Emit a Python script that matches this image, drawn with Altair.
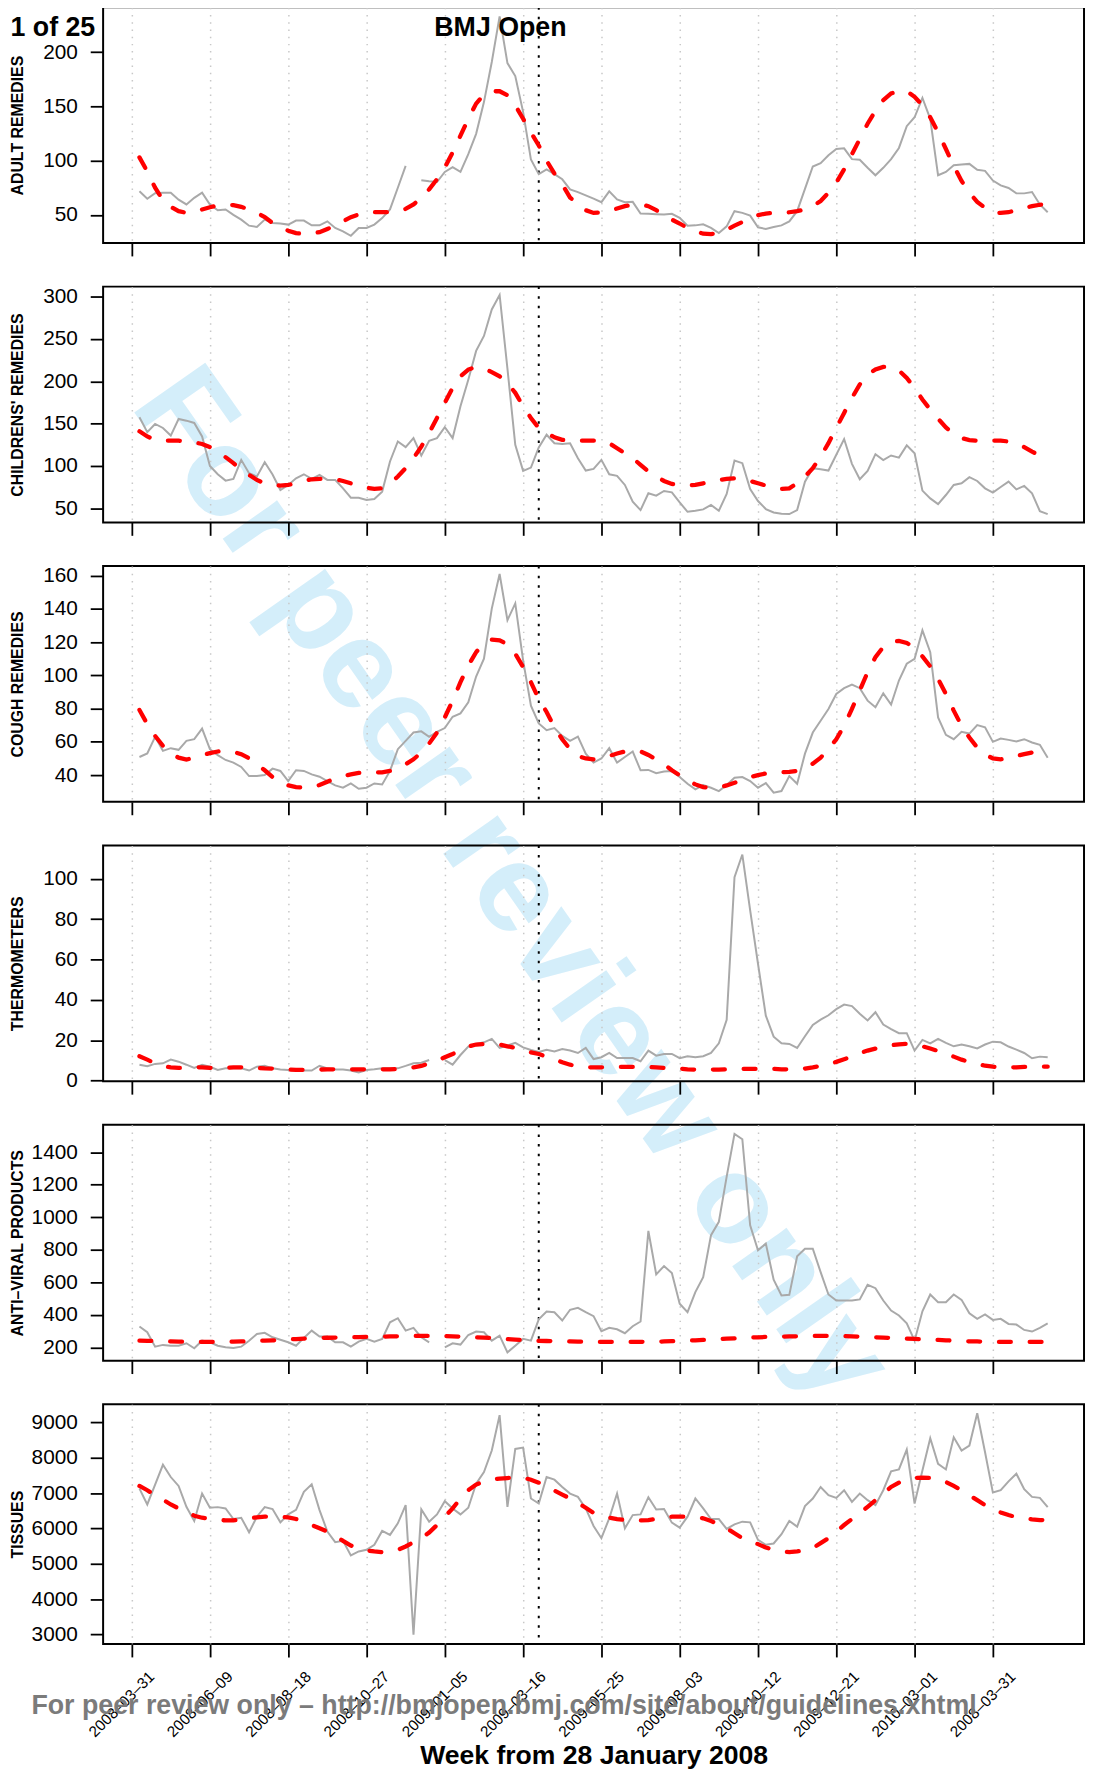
import altair as alt
import pandas as pd

FONT = "Liberation Sans"
GRAY = "#a9a9a9"

# ---------------- data ----------------
weeks = list(range(1, 118))  # week index, 0 = 2008-03-31
tick_weeks = [0, 10, 20, 30, 40, 50, 60, 70, 80, 90, 100, 110]
tick_labels = ["2008–03–31", "2008–06–09", "2008–08–18", "2008–10–27",
               "2009–01–05", "2009–03–16", "2009–05–25", "2009–08–03",
               "2009–10–12", "2009–12–21", "2010–03–01", "2008–03–31"]
marker_week = [52]
x_domain = [-3.64, 121.64]

adult_obs = [
    71.7, 64.8, 70, 70.4, 70.4, 64, 59.6, 65.7, 70.4, 59.6,
    54.3, 55, 50, 45.6, 40, 38.8, 45.6, 42.5, 42, 41,
    44.7, 44.7, 40.3, 40.3, 44, 37.9, 34.8, 30.7, 37.9, 37.9,
    41, 47, 55, 75, 95.2, None, 82, 81, 80.3, 89.6,
    94, 89.6, 106, 124.7, 154, 191, 233, 190, 178, 145,
    101, 87.5, 92, 87.5, 82.8, 73.5, 71, 68, 65, 61.7,
    71.7, 64.2, 61.7, 62, 51.2, 51, 50.6, 50.3, 51, 47.2,
    40, 40.3, 41.3, 37.9, 33.2, 39.4, 53.4, 51.8, 49.3, 38.5,
    37, 38.8, 40.3, 44, 53.4, 74, 94.6, 97.7, 105, 110.7,
    111.3, 101.4, 100.8, 93.4, 86.5, 93.4, 101.4, 111.7, 131.8, 140,
    157.8, 138.6, 86.5, 89.6, 95.8, 96.5, 97, 91.5, 90.6, 81.6,
    77.2, 74.8, 69.8, 69.8, 71, 59.6, 52.4]
adult_fit = [
    103, 90, 75, 63.6, 57.4, 53.4, 51.8, 52.7, 55, 57,
    58.6, 59.3, 59, 57.4, 55, 51.8, 48, 42.5, 38.5, 35.4,
    33.2, 32.3, 33, 34, 37, 40, 44, 47.8, 50.3, 51.8,
    52.4, 52.4, 52.4, 53.4, 55.5, 59.6, 65.8, 73.5, 82.8, 93.7,
    107.6, 123, 138.6, 152.6, 161, 164, 164, 160.3, 151, 138.6,
    126, 114, 100, 88, 78, 66, 59.6, 54.3, 51.8, 52.4,
    53.7, 55.8, 58, 59.3, 59.6, 58, 54.3, 50.3, 45.6, 42,
    37.9, 34.8, 32.6, 32.3, 33.2, 36.3, 40, 43.4, 47.2, 49.7,
    51.2, 51.8, 52, 52.4, 53.4, 55, 58, 62.7, 70.4, 79.7,
    92, 106, 120, 134, 146, 155.7, 162, 164, 164, 158.8,
    151, 140, 126, 110.7, 95.2, 81.3, 70.4, 62, 56.5, 52.4,
    51.8, 52.4, 54.3, 56.5, 58, 59.3, 59.6]

child_obs = [
    157.6, 140, 149.7, 145, 136, 155.6, 153.6, 150.9, 135, 100,
    90.3, 82.8, 84.8, 107.3, 91.5, 87.6, 104.6, 90, 71.7, 77.7,
    85.6, 90.3, 84.8, 89.5, 83.6, 83.6, 73.7, 62.6, 62.6, 59.9,
    61, 69.8, 105.4, 129, 122.4, 133, 112.5, 129.9, 133, 146,
    133, 170.6, 202, 236, 253.7, 285, 302, 215, 125, 94.3,
    98.2, 122, 137, 127, 126, 127, 109.3, 94.7, 96.7, 107.3,
    90.3, 88.4, 77.7, 58, 48, 67.8, 65, 70.6, 69, 57,
    46, 47.2, 48.8, 54, 47.2, 67, 106.6, 103.4, 72.9, 58.7,
    49.2, 45.2, 43.6, 43.3, 48, 81.6, 97.5, 96.3, 94.7, 113.3,
    131.9, 102.6, 84.4, 94.3, 114, 107, 112.5, 110, 124.4, 115,
    71, 61.8, 55.1, 65.8, 77.7, 79.6, 86.8, 82.4, 73.7, 68.6,
    75.3, 81.6, 72.5, 76.5, 67.8, 46.8, 43.3]
child_fit = [
    141, 135, 131, 130, 130, 130, 129, 128, 126, 122.4,
    117, 110.5, 103.4, 95.5, 89.5, 83.6, 79.6, 77.7, 77, 77.7,
    79.6, 82.4, 84.4, 84.8, 84.8, 84.4, 82.4, 79.6, 77, 74.5,
    73, 73.7, 79.6, 87.6, 97.5, 109.3, 123, 139, 156.8, 174.6,
    192.4, 206, 214, 217, 215, 211, 206, 198, 186.5, 170.6,
    156.8, 145, 139, 134, 131, 130, 130, 130, 130, 130,
    127, 121, 115, 109.3, 101.4, 93.5, 87.6, 82.4, 78.9, 77.7,
    77, 77.7, 79.6, 81.6, 83.6, 84.8, 85.6, 84.4, 82.4, 79.6,
    77, 74.5, 73, 73.7, 79.6, 87.6, 97.5, 111.3, 127, 145,
    162.7, 180.5, 196.4, 208, 214, 217, 217, 213, 204, 192.4,
    178.6, 166.7, 156, 145.7, 137.8, 133, 130.7, 130, 130, 130,
    130, 129, 127, 122.4, 117, 112.5, 107.3]

cough_obs = [
    50.9, 53, 63, 54.6, 56.2, 55.2, 60.6, 61.6, 68, 55.6,
    52, 49.1, 47.5, 44.9, 39.4, 39.4, 40, 43.9, 42.5, 36.4,
    42.9, 42.5, 40.4, 39, 36.4, 33.8, 32.4, 35, 31.8, 32.4,
    35, 34.4, 42.5, 55.6, 60.6, 65.6, 66.3, 63, 66, 68.3,
    75.1, 77.1, 83.8, 99.3, 110, 140.2, 161, 133.2, 143.3, 109,
    81.8, 71.1, 67, 68.3, 63.6, 60.6, 63.2, 52.9, 47.5, 50,
    56.2, 47.5, 50.9, 54.2, 42.9, 43.1, 41.1, 42.1, 42.5, 38.8,
    34.8, 31.4, 34, 32.4, 30.4, 34, 38.4, 38.8, 36.4, 32.4,
    35.2, 29.4, 30.4, 39.4, 34.8, 52.9, 65.6, 72.7, 79.8, 88.8,
    92.3, 94.5, 92.3, 84.8, 80.8, 89.2, 82.4, 96.9, 107, 110,
    127.1, 114, 74.7, 64.2, 61.6, 66, 65, 70.1, 68.7, 60,
    62, 61.2, 60.2, 61.6, 59.6, 58.2, 50.5]
cough_fit = [
    79.2, 70.7, 63.6, 57.6, 53, 50.5, 49.3, 50.5, 52, 53.2,
    54.2, 54.6, 54, 52.6, 50.1, 46.5, 42.9, 38.8, 35.4, 33.8,
    32.8, 32.4, 32.8, 34, 36, 38, 39.4, 40.4, 41.3, 41.5,
    41.5, 41.7, 42.5, 44.1, 46.5, 49.5, 53.6, 59, 65.6, 74.7,
    84.8, 95.9, 106, 114, 119.5, 121.5, 121.1, 118.7, 113, 105,
    95.9, 85.8, 78, 68.7, 61.6, 55.6, 51.5, 50, 49.5, 50.5,
    51.5, 53, 54.2, 54.6, 54.2, 52.1, 49.5, 46.5, 42.9, 39.8,
    37, 34.4, 32.8, 32.4, 32.4, 33.8, 35.4, 37, 38.8, 40,
    41, 41.5, 41.7, 41.9, 42.5, 44.1, 46.9, 50.5, 55.6, 61.6,
    69.7, 79.8, 90.9, 101.9, 111, 117.1, 120.1, 120.7, 119.5, 116.7,
    111.4, 105.4, 97.9, 88.8, 78.8, 69.7, 62.6, 56.6, 52.5, 50,
    49.5, 50.1, 51.5, 52.6, 53.6, 54.6, 55]

thermo_obs = [
    7.9, 7.1, 8.3, 8.6, 10.4, 9.4, 7.9, 6.3, 7.9, 6.9,
    5.3, 6.1, 6.1, 6.1, 5, 6.9, 7.4, 6.1, 5.5, 5.3,
    5, 5, 5, 7.4, 6.1, 5.5, 5.5, 5, 4.1, 5.3,
    5.6, 6.1, 6.1, 6.1, 7.3, 8.6, 8.9, 10.2, None, 10.2,
    7.9, 12.7, 16.9, 18.2, 19, 20.7, 16.2, 17.4, 18.7, 16.5,
    15.2, 14.2, 15.3, 14.5, 15.7, 14.9, 13.7, 16.2, 10.7, 11.6,
    13.7, 11.2, 11.2, 11.2, 9.6, 14.9, 12.4, 13.2, 13.2, 11.1,
    12.1, 11.6, 12.1, 13.7, 18.5, 30.1, 100.8, 112, 84.3, 57.9,
    32.2, 21.8, 18.5, 18.2, 16.2, 22, 27.6, 30.2, 32.4, 35.4,
    37.7, 36.9, 33.1, 29.8, 33.9, 27.8, 25.5, 23.5, 23.5, 14.9,
    20.2, 18.5, 20.7, 18.7, 17, 17.9, 17, 16, 17.9, 19.3,
    19, 16.9, 15.4, 13.7, 11.1, 11.9, 11.6]
thermo_fit = [
    12.1, 10.4, 8.6, 7.1, 6.6, 6.3, 6.3, 6.6, 6.6, 6.3,
    6.1, 6.3, 6.6, 6.6, 6.3, 6.3, 6.1, 6, 5.6, 5.5,
    5.3, 5.3, 5.3, 5.5, 5.6, 5.6, 5.6, 5.6, 5.6, 5.6,
    5.6, 5.6, 5.6, 5.8, 6.1, 6.6, 7.3, 8.6, 9.9, 11.6,
    13.2, 15.2, 16.9, 17.9, 18.2, 18.2, 17.9, 17, 16.2, 15.2,
    14, 13.2, 11.9, 10.7, 9.1, 7.9, 7.1, 6.6, 6.6, 6.6,
    6.6, 6.8, 6.8, 6.8, 6.8, 6.8, 6.6, 6.3, 6.1, 6,
    5.6, 5.5, 5.5, 5.5, 5.5, 5.6, 5.6, 5.8, 5.8, 5.8,
    5.8, 5.8, 5.6, 5.6, 5.6, 6, 6.6, 7.3, 8.1, 9.3,
    10.6, 11.9, 13.6, 14.9, 15.9, 16.9, 17.5, 18, 18.2, 17.9,
    17, 15.9, 14.7, 13.4, 11.9, 10.4, 9.3, 8.3, 7.4, 6.9,
    6.6, 6.6, 6.6, 6.8, 6.8, 6.9, 6.9]

antiviral_obs = [
    328, 293, 204, 215, 210, 210, 225, 194, 241, 231,
    210, 200, 196, 204, 241, 282, 289, 262, 247, 231,
    210, 258, 303, 266, 266, 231, 231, 204, 235, 252,
    235, 252, 354, 379, 303, 320, 262, 231, None, 200,
    225, 217, 276, 297, 293, 241, 272, 169, 210, 252,
    241, 372, 420, 416, 365, 431, 443, 416, 392, 299,
    320, 311, 287, 330, 359, 916, 649, 700, 657, 468,
    416, 540, 632, 890, 972, 1250, 1513, 1480, 951, 797,
    838, 616, 519, 523, 760, 807, 807, 663, 525, 488,
    488, 488, 495, 585, 564, 488, 426, 396, 348, 241,
    422, 525, 478, 478, 525, 492, 410, 375, 402, 369,
    375, 344, 340, 307, 297, 320, 348]
antiviral_fit = [
    241, 240, 239, 237, 236, 235, 234, 234, 233, 233,
    233, 234, 235, 236, 238, 240, 241, 243, 245, 248,
    251, 254, 256, 258, 259, 260, 261, 262, 263, 264,
    265, 266, 267, 268, 269, 270, 270, 270, 270, 269,
    268, 266, 264, 262, 260, 257, 254, 251, 248, 245,
    242, 240, 239, 238, 237, 236, 235, 234, 233, 233,
    233, 233, 233, 233, 234, 234, 235, 236, 238, 240,
    241, 243, 246, 248, 250, 253, 255, 258, 260, 262,
    264, 265, 266, 267, 268, 269, 270, 270, 270, 270,
    269, 268, 266, 264, 262, 260, 258, 256, 254, 252,
    250, 248, 246, 243, 241, 239, 237, 236, 235, 234,
    233, 233, 233, 233, 233, 233, 233]

tissues_obs = [
    7127, 6678, 7240, 7802, 7455, 7202, 6612, 6210, 6987, 6584,
    6603, 6566, 6266, 6303, 5892, 6332, 6603, 6547, 6172, 6397,
    6528, 7034, 7249, 6519, 5910, 5611, 5648, 5236, 5349, 5395,
    5536, 5929, 5817, 6144, 6659, 2989, 6538, 6191, 6397, 6772,
    6566, 6397, 6584, 7268, 7596, 8204, 9206, 6612, 8251, 8288,
    6847, 6706, 7455, 7380, 7174, 6987, 6893, 6566, 6069, 5723,
    6285, 6987, 6004, 6378, 6397, 6884, 6538, 6547, 6163, 6023,
    6332, 6847, 6566, 6266, 6266, 5985, 6116, 6191, 6172, 5676,
    5536, 5573, 5835, 6210, 6051, 6631, 6847, 7174, 6940, 6865,
    7081, 6753, 6987, 6800, 6659, 7081, 7614, 7670, 8232, 6706,
    7642, 8551, 7830, 7670, 8579, 8204, 8345, 9262, 8157, 7015,
    7081, 7333, 7549, 7109, 6893, 6865, 6603]
tissues_fit = [
    7202, 7081, 6940, 6818, 6678, 6566, 6453, 6360, 6303, 6266,
    6238, 6229, 6229, 6247, 6285, 6313, 6332, 6341, 6332, 6313,
    6266, 6191, 6097, 6004, 5910, 5789, 5648, 5517, 5423, 5377,
    5349, 5330, 5349, 5395, 5489, 5611, 5723, 5882, 6097, 6332,
    6566, 6847, 7081, 7240, 7333, 7390, 7408, 7427, 7446, 7436,
    7380, 7296, 7174, 7071, 6959, 6847, 6725, 6584, 6440, 6360,
    6303, 6266, 6238, 6229, 6229, 6238, 6266, 6303, 6332, 6332,
    6332, 6322, 6285, 6210, 6116, 6004, 5864, 5723, 5648, 5555,
    5461, 5395, 5349, 5330, 5349, 5377, 5442, 5583, 5723, 5910,
    6097, 6266, 6425, 6613, 6800, 6987, 7174, 7296, 7380, 7427,
    7436, 7427, 7380, 7315, 7202, 7081, 6940, 6800, 6659, 6547,
    6453, 6378, 6322, 6285, 6257, 6238, 6238]

panel_titles = ["ADULT REMEDIES", "CHILDRENS' REMEDIES", "COUGH REMEDIES",
                "THERMOMETERS", "ANTI–VIRAL PRODUCTS", "TISSUES"]
panel_obs = [adult_obs, child_obs, cough_obs, thermo_obs, antiviral_obs, tissues_obs]
panel_fit = [adult_fit, child_fit, cough_fit, thermo_fit, antiviral_fit, tissues_fit]
panel_domains = [[24, 241.5], [33.4, 311.9], [23.9, 165.8],
                 [-0.3, 116.5], [118, 1568.7], [2727, 9515]]
panel_ticks = [[50, 100, 150, 200],
               [50, 100, 150, 200, 250, 300],
               [40, 60, 80, 100, 120, 140, 160],
               [0, 20, 40, 60, 80, 100],
               [200, 400, 600, 800, 1000, 1200, 1400],
               [3000, 4000, 5000, 6000, 7000, 8000, 9000]]
panel_heights = [238, 238, 238, 238, 238, 242]

header_text = ["BMJ Open"]
page_text = ["1 of 25"]
watermark_text = ["For peer review only"]
footer_text = ["For peer review only – http://bmjopen.bmj.com/site/about/guidelines.xhtml"]
x_title_text = "Week from 28 January 2008"

PLOT_W = 990
label_expr = "[" + ",".join("'" + s + "'" for s in tick_labels) + "][round(datum.value / 10)]"


def to_segments(values):
    rows = []
    seg = 0
    for w, v in zip(weeks, values):
        if v is None:
            seg += 1
            continue
        rows.append({"week": w, "value": v, "seg": seg})
    return pd.DataFrame(rows)


def make_panel(i):
    last = i == len(panel_titles) - 1
    obs_df = to_segments(panel_obs[i])
    fit_df = to_segments(panel_fit[i])
    xscale = alt.Scale(domain=x_domain, nice=False, zero=False)
    yscale = alt.Scale(domain=panel_domains[i], nice=False, zero=False)

    xkw = dict(values=tick_weeks, grid=True, gridColor="#c8c8c8", gridDash=[1.5, 5.8],
               gridWidth=1.5, domain=False, ticks=True, tickSize=13, tickWidth=1.8,
               tickColor="black", labels=last)
    if last:
        x_title = x_title_text
        xkw.update(labelExpr=label_expr, labelAngle=315, labelAlign="right",
                   labelBaseline="top", labelOffset=15, labelPadding=12,
                   labelFont=FONT, labelFontSize=15.5, labelColor="black",
                   labelOverlap=False, labelFlush=False,
                   title=x_title, titleFont=FONT, titleFontSize=26.8,
                   titleFontWeight="bold", titleColor="black", titleY=121,
                   titleBaseline="alphabetic")
    else:
        x_title = ""
        xkw.update(title=x_title)
    xaxis = alt.Axis(**xkw)

    yaxis = alt.Axis(values=panel_ticks[i], format="d", grid=False, domain=False,
                     ticks=True, tickSize=13, tickWidth=1.8, tickColor="black",
                     labelFont=FONT, labelFontSize=21, labelColor="black",
                     labelPadding=13, labelOverlap=False, labelFlush=False,
                     title=panel_titles[i], titleFont=FONT, titleFontSize=16,
                     titleFontWeight="bold", titleColor="black", titleX=-86,
                     titleBaseline="middle")

    xenc = alt.X("week:Q", scale=xscale, axis=xaxis, title=x_title)
    yenc = alt.Y("value:Q", scale=yscale, axis=yaxis, title=panel_titles[i])

    layers = []
    if i == 0:
        layers.append(
            alt.Chart(pd.DataFrame({"t": watermark_text})).mark_text(
                font=FONT, fontSize=127, fontWeight="bold", color="#d4eefa",
                angle=55, align="center", baseline="middle"
            ).encode(text="t:N", x=alt.value(412), y=alt.value(886))
        )

    layers.append(
        alt.Chart(pd.DataFrame({"week": marker_week})).mark_rule(
            color="black", strokeWidth=2, strokeDash=[2.5, 7.2]
        ).encode(x=xenc)
    )
    layers.append(
        alt.Chart(obs_df).mark_line(color=GRAY, strokeWidth=2).encode(
            x=xenc, y=yenc, detail="seg:N",
        )
    )
    layers.append(
        alt.Chart(fit_df).mark_line(color="red", strokeWidth=4.3, strokeDash=[12, 19],
                                    strokeCap="round").encode(
            x=xenc, y=yenc,
        )
    )
    if i == 0:
        layers.append(
            alt.Chart(pd.DataFrame({"t": header_text})).mark_text(
                font=FONT, fontSize=27, fontWeight="bold", color="black",
                align="center", baseline="alphabetic"
            ).encode(text="t:N", x=alt.value(401), y=alt.value(29.4))
        )
        layers.append(
            alt.Chart(pd.DataFrame({"t": page_text})).mark_text(
                font=FONT, fontSize=27, fontWeight="bold", color="black",
                align="left", baseline="alphabetic"
            ).encode(text="t:N", x=alt.value(-93.5), y=alt.value(29.4))
        )
    if last:
        layers.append(
            alt.Chart(pd.DataFrame({"t": footer_text})).mark_text(
                font=FONT, fontSize=27, fontWeight="bold", color="#7b7b7b",
                align="center", baseline="alphabetic"
            ).encode(text="t:N", x=alt.value(404.7), y=alt.value(313))
        )
    return alt.layer(*layers).properties(width=PLOT_W, height=panel_heights[i])


panels = [make_panel(i) for i in range(len(panel_titles))]

chart = alt.vconcat(*panels, spacing=44, bounds="flush").properties(
    padding={"left": 0, "top": -11, "right": 1, "bottom": 0},
    background="white",
).configure_view(stroke="black", strokeWidth=2)

chart.save("out.html", embed_options={"renderer": "svg", "actions": False})
